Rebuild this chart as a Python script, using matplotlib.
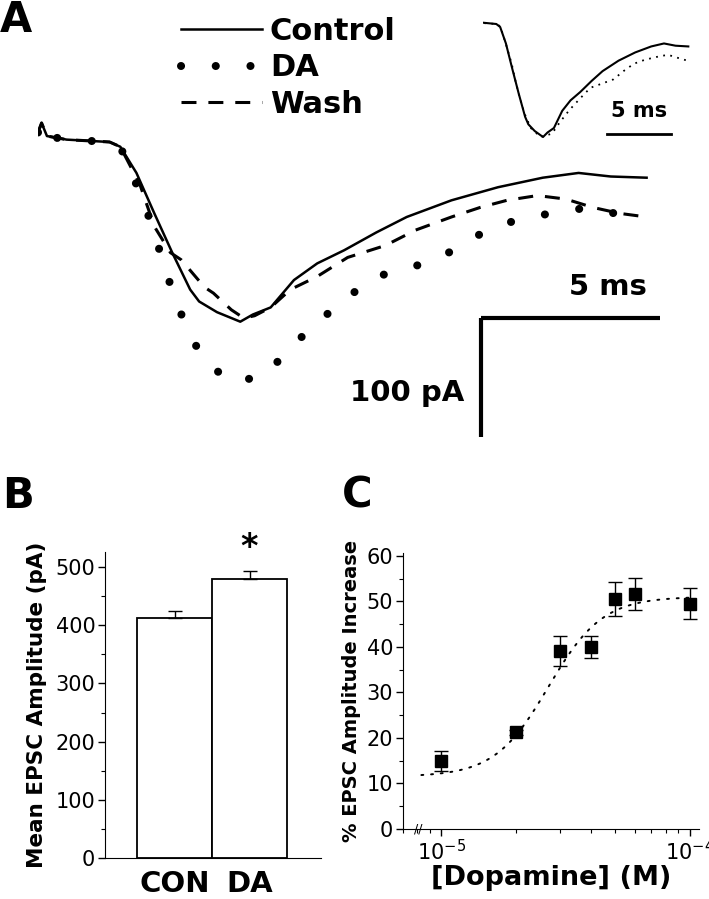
import matplotlib
matplotlib.use("Agg")
import matplotlib.pyplot as plt
import numpy as np
from matplotlib.ticker import MultipleLocator, NullFormatter, LogLocator

W, H = 709, 899
fig = plt.figure(figsize=(W / 100, H / 100), dpi=100)


def box(x0, y0, x1, y1):
    # pixel box (top-left origin) -> figure fraction rect
    return [x0 / W, 1 - y1 / H, (x1 - x0) / W, (y1 - y0) / H]


# ---- panel A: EPSC traces (time in ms, current in pA) ----
t_con = [0, 0.1, 0.25, 0.8, 2.0, 2.3, 2.75, 3.25, 3.75, 4.25, 4.5, 5.0, 5.65, 6.0,
         6.5, 7.15, 7.8, 8.55, 9.45, 10.3, 11.55, 12.85, 14.1, 15.1, 16.0, 17.0]
i_con = [8, 16, 5, 2, 0, -4, -26, -60, -93, -124, -134, -143, -151, -145,
         -139, -116, -102, -91, -76, -63, -49, -38, -30, -26, -29, -30]

t_da = [0, 0.1, 0.25, 0.8, 2.0, 2.3, 2.7, 3.2, 3.5, 3.8, 4.2, 4.7, 5.45, 6.35,
        6.95, 7.7, 8.55, 9.35, 10.2, 11.15, 11.95, 12.75, 13.6, 14.5, 15.4, 16.25, 17.0]
i_da = [8, 16, 5, 2, 0, -4, -32, -71, -102, -129, -160, -186, -202, -196,
        -176, -154, -133, -114, -107, -99, -84, -71, -64, -59, -55, -61, -66]

t_wash = [0, 0.1, 0.25, 0.8, 2.0, 2.3, 2.85, 3.25, 3.7, 4.0, 4.65, 4.9, 5.4, 5.75,
          6.05, 6.5, 7.05, 7.8, 8.65, 9.7, 10.55, 11.55, 12.35, 13.1, 13.95, 14.75,
          15.5, 16.25, 17.0]
i_wash = [8, 16, 5, 2, 0, -4, -36, -71, -93, -99, -122, -127, -141, -148,
          -146, -139, -124, -113, -97, -87, -74, -63, -55, -49, -45, -48,
          -55, -60, -63]

scale_ms = 5
scale_pA = 100

# ---- panel B ----
groups = ["CON", "DA"]
amp_mean = [412, 479]
amp_sem = [12, 14]

# ---- panel C ----
dopamine = [1e-5, 2e-5, 3e-5, 4e-5, 5e-5, 6e-5, 1e-4]
pct_increase = [15.0, 21.2, 39.0, 39.9, 50.5, 51.6, 49.5]
pct_sem = [2.2, 0.6, 3.3, 2.4, 3.7, 3.6, 3.5]
# sigmoid (Hill) fit drawn in the figure
fit_bottom, fit_top, fit_ec50, fit_n = 11.5, 51.0, 2.7e-5, 4.0

# ================= panel A =================
axA = fig.add_axes(box(38, 100, 680, 450))
axA.set_xlim(0, (680 - 38) / 35.8)
axA.set_ylim(-(450 - 142) / 1.19, (142 - 100) / 1.19)
axA.axis("off")

l_con, = axA.plot(t_con, i_con, color="black", lw=1.8, label="Control")
l_da, = axA.plot(t_da, i_da, color="black", lw=5.8, linestyle=(0, (0.01, 4.3)),
                 dash_capstyle="round", label="DA")
l_wash, = axA.plot(t_wash, i_wash, color="black", lw=2.2, linestyle=(0, (4.9, 3.9)),
                   label="Wash")

# scale bars
sb_t = (481 - 38) / 35.8
sb_i = -(318 - 142) / 1.19
axA.plot([sb_t, sb_t + scale_ms], [sb_i, sb_i], color="black", lw=3, solid_capstyle="butt")
axA.plot([sb_t, sb_t], [sb_i, sb_i - scale_pA], color="black", lw=3, solid_capstyle="butt")
axA.text(17.0, -122, "5 ms", ha="right", va="center", fontsize=21, fontweight="bold")
axA.text(11.9, -211, "100 pA", ha="right", va="center", fontsize=21, fontweight="bold")

leg = axA.legend(handles=[l_con, l_da, l_wash], loc="upper left",
                 bbox_to_anchor=(181 / W, 1 - 17 / H), bbox_transform=fig.transFigure,
                 frameon=False, borderpad=0, borderaxespad=0, fontsize=22,
                 handlelength=2.64, handletextpad=0.27, labelspacing=0.24)
for txt in leg.get_texts():
    txt.set_fontweight("bold")

# inset: peak-normalised Control and DA
axI = fig.add_axes(box(483, 15, 690, 145))
axI.set_xlim(0.96, 0.96 + (690 - 483) / 12.8)
axI.set_ylim(-(145 - 24) / 113, (24 - 15) / 113)
axI.axis("off")
axI.plot(t_con, np.array(i_con) / abs(min(i_con)), color="black", lw=1.5)
axI.plot(t_da, np.array(i_da) / abs(min(i_da)), color="black", lw=1.3,
         linestyle=(0, (1, 3)))
ib_t = 0.96 + (607 - 483) / 12.8
ib_y = -(134 - 24) / 113
axI.plot([ib_t, ib_t + scale_ms], [ib_y, ib_y], color="black", lw=2)
axI.text(ib_t + scale_ms / 2, -(111 - 24) / 113, "5 ms", ha="center", va="center",
         fontsize=15, fontweight="bold")

# panel letters
fig.text(0 / W, 1 - 20 / H, "A", fontsize=30, fontweight="bold", va="center", ha="left")
fig.text(2 / W, 1 - 496 / H, "B", fontsize=30, fontweight="bold", va="center", ha="left")
fig.text(342 / W, 1 - 496 / H, "C", fontsize=30, fontweight="bold", va="center", ha="left")

# ================= panel B =================
axB = fig.add_axes(box(105, 552, 321, 858))
xb = np.arange(len(groups))
axB.bar(xb, amp_mean, width=1.0, color="white", edgecolor="black", linewidth=1.3, zorder=2)
axB.errorbar(xb, amp_mean, yerr=[[0] * len(amp_sem), amp_sem], fmt="none",
             ecolor="black", elinewidth=1.0, capsize=5, capthick=1.0, zorder=3)
axB.set_xlim(-0.927, 1.953)
axB.set_ylim(0, 526)
axB.spines[["top", "right"]].set_visible(False)
axB.yaxis.set_major_locator(MultipleLocator(100))
axB.yaxis.set_minor_locator(MultipleLocator(50))
axB.tick_params(axis="y", which="major", direction="out", length=5, width=1,
                labelsize=15, pad=2)
axB.tick_params(axis="y", which="minor", direction="out", length=3, width=0.8)
axB.set_xticks(xb)
axB.set_xticklabels(groups, fontsize=21, fontweight="bold")
axB.tick_params(axis="x", length=0, pad=9)
axB.set_ylabel("Mean EPSC Amplitude (pA)", fontsize=15.5, fontweight="bold", labelpad=6)
axB.text(1, amp_mean[1] + amp_sem[1] + 40, "*", ha="center", va="center",
         fontsize=24, fontweight="bold", clip_on=False)

# ================= panel C =================
axC = fig.add_axes(box(403, 553, 699, 829))
axC.set_xscale("log")
conc = np.logspace(np.log10(8.3e-6), np.log10(1e-4), 200)
fit = fit_bottom + (fit_top - fit_bottom) / (1 + (fit_ec50 / conc) ** fit_n)
axC.plot(conc, fit, color="black", lw=1.4, linestyle=(0, (1, 4)), dash_capstyle="round")
axC.errorbar(dopamine, pct_increase, yerr=pct_sem, fmt="s", color="black", ms=9,
             elinewidth=1, capsize=4.7, capthick=1)
axC.set_xlim(7e-6, 1.09e-4)
axC.set_ylim(0, 60.6)
axC.spines[["top", "right"]].set_visible(False)
axC.yaxis.set_major_locator(MultipleLocator(10))
axC.yaxis.set_minor_locator(MultipleLocator(5))
axC.xaxis.set_major_locator(LogLocator(base=10, numticks=5))
axC.xaxis.set_minor_locator(LogLocator(base=10, subs=np.arange(2, 10), numticks=10))
axC.xaxis.set_minor_formatter(NullFormatter())
axC.tick_params(which="major", direction="out", length=5, width=1, labelsize=15, pad=2)
axC.tick_params(which="minor", direction="out", length=3, width=0.8)
axC.set_xlabel("[Dopamine] (M)", fontsize=19.5, fontweight="bold", labelpad=1)
axC.set_ylabel("% EPSC Amplitude Increase", fontsize=14, fontweight="bold", labelpad=4)
axC.text(0.05, 0.0, "//", transform=axC.transAxes, ha="center", va="center",
         fontsize=9, clip_on=False)

fig.savefig("out.png", dpi=100)
